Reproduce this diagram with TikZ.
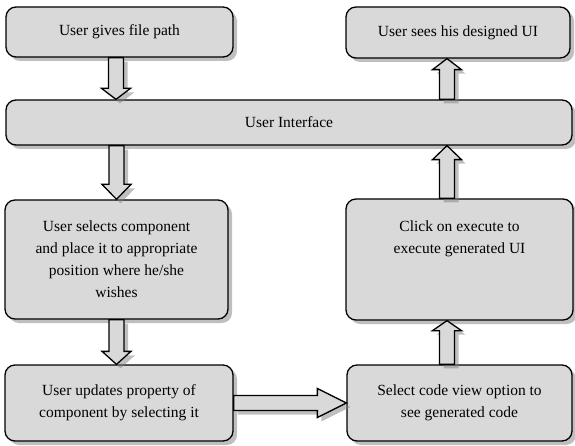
\documentclass[tikz,border=0pt]{standalone}
\usepackage{fontspec}
\setmainfont{Liberation Serif}
\usetikzlibrary{calc,shadows}
\tikzset{
  stepbox/.style={draw, line width=1.3pt, rounded corners=10pt, fill=black!15,
    drop shadow={shadow xshift=4pt, shadow yshift=-4pt, opacity=.5},
    align=center, inner sep=0pt, font=\fontsize{15.5}{22}\selectfont},
  blockarrow/.style={draw, line width=1.3pt, fill=black!15,
    drop shadow={shadow xshift=4pt, shadow yshift=-4pt, opacity=.5},
    to path={
      ($(\tikztostart)!7.5pt!90:(\tikztotarget)$)
      -- ($($(\tikztotarget)!#1!(\tikztostart)$)!7.5pt!-90:(\tikztostart)$)
      -- ($($(\tikztotarget)!#1!(\tikztostart)$)!14.5pt!-90:(\tikztostart)$)
      -- (\tikztotarget)
      -- ($($(\tikztotarget)!#1!(\tikztostart)$)!14.5pt!90:(\tikztostart)$)
      -- ($($(\tikztotarget)!#1!(\tikztostart)$)!7.5pt!90:(\tikztostart)$)
      -- ($(\tikztostart)!7.5pt!-90:(\tikztotarget)$) -- cycle}},
  blockarrow/.default=12pt
}
\begin{document}
\begin{tikzpicture}[x=1pt,y=-1pt]
\useasboundingbox (0,0) rectangle (575,446);
\node[stepbox,minimum width=227pt,minimum height=50pt] (give) at (119.5,32) {User gives file path};
\node[stepbox,minimum width=224pt,minimum height=51pt] (sees) at (458,32.5) {User sees his designed UI};
\node[stepbox,minimum width=566pt,minimum height=45pt] (ui) at (289,122.5) {User Interface};
\node[stepbox,minimum width=223pt,minimum height=119pt] (select) at (116.5,259.5) {User selects component\\and place it to appropriate\\position where he/she\\wishes};
\node[stepbox,minimum width=227pt,minimum height=121pt] (execute) at (459.5,259.5) {Click on execute to\\execute generated UI\\ \\ };
\node[stepbox,minimum width=228pt,minimum height=76pt] (update) at (119,403) {User updates property of\\component by selecting it};
\node[stepbox,minimum width=225pt,minimum height=76pt] (code) at (459.5,403) {Select code view option to\\see generated code};
% arrows
\draw[blockarrow=11pt] ([xshift=-3.5pt]give.south) to ([xshift=-3.5pt]give.south |- ui.north);
\draw[blockarrow=11pt] ([xshift=-11pt]sees.south |- ui.north) to ([xshift=-11pt]sees.south);
\draw[blockarrow=15pt] (select.north |- ui.south) to (select.north);
\draw[blockarrow=14pt] ([xshift=-12.5pt]execute.north) to ([xshift=-12.5pt]execute.north |- ui.south);
\draw[blockarrow=13pt] (select.south) to (select.south |- update.north);
\draw[blockarrow=10pt] ([xshift=-12.5pt]code.north) to ([xshift=-12.5pt]code.north |- execute.south);
\draw[blockarrow=29pt] (update.east) to (code.west);
\end{tikzpicture}
\end{document}
